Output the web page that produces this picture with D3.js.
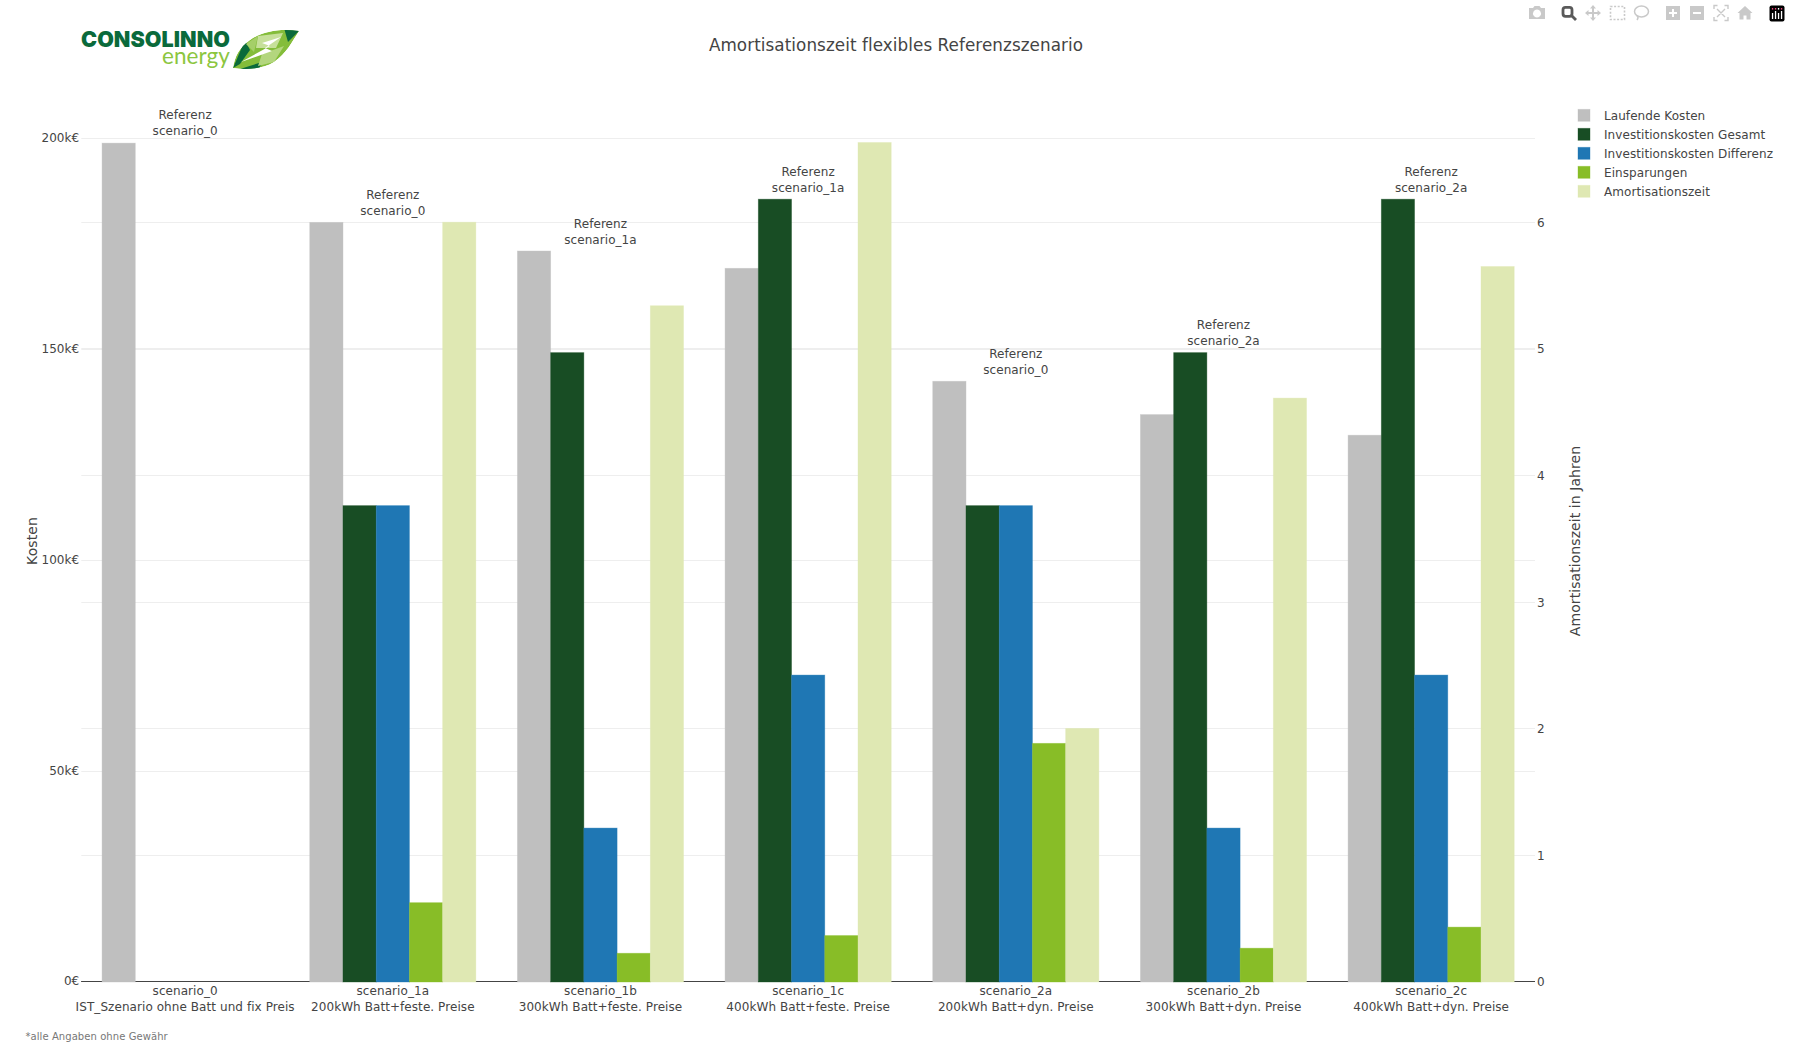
<!DOCTYPE html>
<html lang="de">
<head>
<meta charset="utf-8">
<title>Amortisationszeit flexibles Referenzszenario</title>
<script src="https://cdn.jsdelivr.net/npm/d3@7/dist/d3.min.js"></script>
<style>
  html, body { margin: 0; padding: 0; background: #fff; }
  svg { display: block; }
  text { font-family: "DejaVu Sans", Verdana, sans-serif; fill: #444; letter-spacing: 0.07px; }
</style>
</head>
<body>
<svg id="chart" width="1794" height="1049"></svg>
<script>
// Szenarien und Beschriftungen
const categories = ["scenario_0", "scenario_1a", "scenario_1b", "scenario_1c", "scenario_2a", "scenario_2b", "scenario_2c"];
const descriptions = [
  "IST_Szenario ohne Batt und fix Preis",
  "200kWh Batt+feste. Preise",
  "300kWh Batt+feste. Preise",
  "400kWh Batt+feste. Preise",
  "200kWh Batt+dyn. Preise",
  "300kWh Batt+dyn. Preise",
  "400kWh Batt+dyn. Preise"
];
const references = ["scenario_0", "scenario_0", "scenario_1a", "scenario_1a", "scenario_0", "scenario_2a", "scenario_2a"];
// Kostenniveau, an dem der jeweilige Referenzhinweis hängt
const referenceLevels = [199100, 180100, 173300, 185600, 142400, 149200, 185600];

// Kosten in Euro, Amortisationszeit in Jahren
const laufendeKosten = [198900, 180100, 173300, 169200, 142400, 134500, 129600];
const investGesamt = [0, 112900, 149200, 185600, 112900, 149200, 185600];
const investDifferenz = [0, 112900, 36400, 72700, 112900, 36400, 72700];
const einsparungen = [0, 18700, 6700, 10900, 56500, 7900, 12900];
const amortisation = [0, 6.0, 5.34, 6.63, 2.0, 4.61, 5.65];

const seriesNames = ["Laufende Kosten", "Investitionskosten Gesamt", "Investitionskosten Differenz", "Einsparungen", "Amortisationszeit"];
const seriesColors = ["#bfbfbf", "#184d24", "#1f77b4", "#88bd27", "#dfe8b3"];
const costTicks = [0, 50000, 100000, 150000, 200000];
const yearTicks = [0, 1, 2, 3, 4, 5, 6];

const svg = d3.select("#chart");

const plot = { left: 81.3, right: 1535, top: 138.5, bottom: 981.5 };

const x = d3.scaleBand().domain(categories).range([plot.left, plot.right]).paddingInner(0.2).paddingOuter(0.1);
const xSeries = d3.scaleBand().domain(seriesNames).range([0, x.bandwidth()]);
const yCost = d3.scaleLinear().domain([0, 200000]).range([plot.bottom, plot.top]);
const yYears = d3.scaleLinear().domain([0, 6]).range([plot.bottom, 222.2]);

// Gitterlinien liegen pixelgenau auf ganzen Zeilen
function snapTicks(sel, scale) {
  sel.selectAll(".tick").attr("transform", d => `translate(0,${Math.floor(scale(d) + 0.25) + 0.5})`);
}

// Linke Achse: Kosten
const axisLeft = svg.append("g").attr("class", "axis-cost").attr("transform", `translate(${plot.left},0)`)
  .call(d3.axisLeft(yCost).tickValues(costTicks).tickSize(0).tickPadding(2).offset(0)
    .tickFormat(d => d === 0 ? "0€" : `${d / 1000}k€`));
snapTicks(axisLeft, yCost);

// Rechte Achse: Jahre
const axisRight = svg.append("g").attr("class", "axis-years").attr("transform", `translate(${plot.right},0)`)
  .call(d3.axisRight(yYears).tickValues(yearTicks).tickSize(0).tickPadding(2).offset(0).tickFormat(d3.format("d")));
snapTicks(axisRight, yYears);

[axisLeft, axisRight].forEach((axis, i) => {
  axis.select(".domain").remove();
  axis.selectAll("text").attr("font-size", 12).attr("dy", i === 0 ? "0.3em" : "0.36em")
    .style("font-family", '"DejaVu Sans", Verdana, sans-serif').style("fill", "#444");
});

const gridWidth = plot.right - plot.left;
axisLeft.selectAll(".tick line").attr("x1", 0).attr("x2", gridWidth)
  .attr("stroke", d => d === 0 ? "#444" : "#eeeeee").attr("stroke-width", 1);
axisRight.selectAll(".tick line").attr("x1", -gridWidth).attr("x2", 0)
  .attr("stroke", d => d === 0 ? "#444" : "#eeeeee").attr("stroke-width", 1);

// Balken je Szenario und Serie
const seriesValues = [laufendeKosten, investGesamt, investDifferenz, einsparungen, amortisation];
const seriesScales = [yCost, yCost, yCost, yCost, yYears];

seriesNames.forEach((name, s) => {
  svg.append("g").attr("class", "series")
    .selectAll("rect")
    .data(seriesValues[s].map((v, i) => ({ v, c: categories[i] })).filter(d => d.v > 0))
    .join("rect")
    .attr("x", d => x(d.c) + xSeries(name))
    .attr("width", xSeries.bandwidth())
    .attr("y", d => seriesScales[s](d.v))
    .attr("height", d => plot.bottom + 0.5 - seriesScales[s](d.v))
    .attr("fill", seriesColors[s])
    .attr("stroke", seriesColors[s])
    .attr("stroke-opacity", 0.45)
    .attr("stroke-width", 0.8);
});

// Kategorienachse mit zweizeiliger Beschriftung
const axisBottom = svg.append("g").attr("class", "axis-x").attr("transform", `translate(0,${plot.bottom})`)
  .call(d3.axisBottom(x).tickSize(0).tickPadding(0).tickFormat(""));
axisBottom.select(".domain").remove();
axisBottom.selectAll(".tick text").remove();
axisBottom.selectAll(".tick").append("text")
  .attr("text-anchor", "middle").attr("font-size", 12)
  .selectAll("tspan")
  .data((d, i) => [d, descriptions[i]])
  .join("tspan")
  .attr("x", 0)
  .attr("y", (d, i) => 13.5 + i * 15.8)
  .text(d => d);

// Hinweise auf das Referenzszenario über den Balkengruppen
const refGroup = svg.append("g").attr("class", "references");
categories.forEach((c, i) => {
  const cx = x(c) + x.bandwidth() / 2;
  const anchorY = yCost(referenceLevels[i]) - 7.5;
  const t = refGroup.append("text").attr("text-anchor", "middle").attr("font-size", 12);
  t.append("tspan").attr("x", cx).attr("y", anchorY - 15.8).text("Referenz");
  t.append("tspan").attr("x", cx).attr("y", anchorY).text(references[i]);
});

// Titel, Achsentitel und Fußnote
svg.append("text").attr("x", 896).attr("y", 51).attr("text-anchor", "middle").attr("font-size", 16.8)
  .text("Amortisationszeit flexibles Referenzszenario");
svg.append("text").attr("transform", "translate(37,541) rotate(-90)").attr("text-anchor", "middle").attr("font-size", 14)
  .text("Kosten");
svg.append("text").attr("transform", "translate(1580,541) rotate(-90)").attr("text-anchor", "middle").attr("font-size", 14)
  .text("Amortisationszeit in Jahren");
svg.append("text").attr("x", 25.5).attr("y", 1040).attr("font-size", 10).style("fill", "#777")
  .text("*alle Angaben ohne Gewähr");

// Legende
const legend = svg.append("g").attr("class", "legend");
seriesNames.forEach((name, i) => {
  const cy = 115.3 + i * 19;
  legend.append("rect").attr("x", 1578).attr("y", cy - 6).attr("width", 12).attr("height", 12)
    .attr("fill", seriesColors[i]).attr("stroke", seriesColors[i]).attr("stroke-opacity", 0.45).attr("stroke-width", 0.8);
  legend.append("text").attr("x", 1604).attr("y", cy + 4.5).attr("font-size", 12).text(name);
});

// Firmenzeichen: Wortmarke und Blatt
const logo = svg.append("g").attr("class", "logo");
logo.append("text").attr("x", 81).attr("y", 46.5).attr("font-size", 22).attr("textLength", 149).attr("lengthAdjust", "spacingAndGlyphs")
  .style("font-family", "Inter, Lato, sans-serif").style("font-weight", 900).style("fill", "#0a6a3b").text("CONSOLINNO");
logo.append("text").attr("x", 162).attr("y", 63.5).attr("font-size", 23.5).attr("textLength", 68).attr("lengthAdjust", "spacingAndGlyphs")
  .style("font-family", "Lato, sans-serif").style("font-weight", 400).style("fill", "#8cc63f").text("energy");

const leafPath = "M299,31 C282,28 262,31 250,40 C239,48 235,56 233,68 C247,70 263,69 274,62 C286,54 292,42 299,31 Z";
svg.append("defs").append("clipPath").attr("id", "leaf-clip").append("path").attr("d", leafPath);
const leaf = logo.append("g").attr("clip-path", "url(#leaf-clip)");
leaf.append("path").attr("d", leafPath).attr("fill", "#84bd3a");
[
  ["M233,68 L245,40 L250,50 L240,64 Z", "#0a6a3b"],
  ["M284,28 L300,30 L288,42 Z", "#0a6a3b"],
  ["M237,70 L262,62 L258,72 Z", "#0a6a3b"],
  ["M258,36 L283,33 L276,48 L256,48 Z", "#c6e09a"],
  ["M262,54 L284,46 L274,62 L258,66 Z", "#b3d67e"],
  ["M246,44 L258,36 L254,52 Z", "#a5cf68"]
].forEach(([d, fill]) => leaf.append("path").attr("d", d).attr("fill", fill));
leaf.append("path").attr("d", "M281,37 L262,43 L270,46 L241,62 L272,51 L265,48 Z").attr("fill", "#fff");

// Werkzeugleiste oben rechts
const tools = svg.append("g").attr("class", "toolbar");
const toolGrey = "#c9c9c9";
// Kamera
tools.append("path").attr("fill", toolGrey).attr("fill-rule", "evenodd")
  .attr("d", "M1529,8 h4 l1.5,-2 h5 l1.5,2 h4 v11 h-16 Z M1537,9.5 a4,4 0 1,0 0.01,0 Z");
// Lupe, aktiv
tools.append("rect").attr("x", 1563).attr("y", 7.3).attr("width", 9).attr("height", 9).attr("rx", 2.5).attr("fill", "none").attr("stroke", "#5a5a5a").attr("stroke-width", 2.8);
tools.append("line").attr("x1", 1572).attr("y1", 16).attr("x2", 1576).attr("y2", 20).attr("stroke", "#5a5a5a").attr("stroke-width", 2.8);
// Verschieben
tools.append("path").attr("fill", toolGrey)
  .attr("d", "M1593,5 l3,3.5 h-2 v3.5 h3.5 v-2 l3.5,3 -3.5,3 v-2 h-3.5 v3.5 h2 l-3,3.5 -3,-3.5 h2 v-3.5 h-3.5 v2 l-3.5,-3 3.5,-3 v2 h3.5 v-3.5 h-2 Z");
// Rechteckauswahl
tools.append("rect").attr("x", 1610.5).attr("y", 6.5).attr("width", 14).attr("height", 13).attr("fill", "none")
  .attr("stroke", toolGrey).attr("stroke-width", 1.6).attr("stroke-dasharray", "2 1.6");
// Lasso
tools.append("ellipse").attr("cx", 1641.5).attr("cy", 11.5).attr("rx", 7).attr("ry", 5.5).attr("fill", "none").attr("stroke", toolGrey).attr("stroke-width", 1.5);
tools.append("path").attr("d", "M1637,15.5 q2,2 0,4.5").attr("fill", "none").attr("stroke", toolGrey).attr("stroke-width", 1.5);
// Vergrößern und Verkleinern
tools.append("path").attr("fill", toolGrey).attr("fill-rule", "evenodd")
  .attr("d", "M1666,6 h14 v14 h-14 Z M1672,9 v3 h-3 v2 h3 v3 h2 v-3 h3 v-2 h-3 v-3 Z");
tools.append("path").attr("fill", toolGrey).attr("fill-rule", "evenodd")
  .attr("d", "M1690,6 h14 v14 h-14 Z M1693,12 v2 h8 v-2 Z");
// Einpassen
tools.append("path").attr("fill", "none").attr("stroke", toolGrey).attr("stroke-width", 1.4)
  .attr("d", "M1714,9 v-3.5 h3.5 M1724.5,5.5 h3.5 v3.5 M1728,17 v3.5 h-3.5 M1717.5,20.5 h-3.5 v-3.5 M1717,9 l8,8 M1725,9 l-8,8");
// Startansicht
tools.append("path").attr("fill", toolGrey)
  .attr("d", "M1745,6 l7.5,7 h-2 v6.5 h-4 v-4 h-3 v4 h-4 v-6.5 h-2 Z");
// Plotly-Marke
tools.append("rect").attr("x", 1769.5).attr("y", 5.5).attr("width", 15).attr("height", 16).attr("rx", 2).attr("fill", "#000");
[1772.5, 1775.5, 1778.5, 1781.5].forEach((bx, i) => {
  tools.append("rect").attr("x", bx - 0.6).attr("y", 8).attr("width", 1.3).attr("height", 1.6).attr("fill", i === 2 ? "#fff" : "#e8467c");
  tools.append("rect").attr("x", bx - 0.6).attr("y", i % 2 ? 11 : 13).attr("width", 1.3).attr("height", i % 2 ? 8 : 6).attr("fill", "#fff");
});
</script>
</body>
</html>
